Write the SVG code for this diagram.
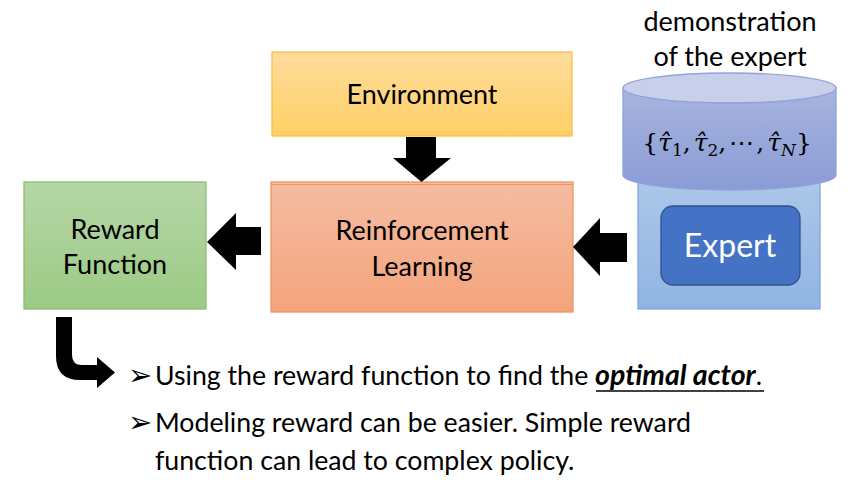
<svg xmlns="http://www.w3.org/2000/svg" width="853" height="493" viewBox="0 0 853 493">
<defs>
<linearGradient id="gEnv" x1="0" y1="0" x2="0" y2="1"><stop offset="0" stop-color="#FFDC9C"/><stop offset="1" stop-color="#FFD066"/></linearGradient>
<linearGradient id="gRL" x1="0" y1="0" x2="0" y2="1"><stop offset="0" stop-color="#F5BCA2"/><stop offset="1" stop-color="#F4A47C"/></linearGradient>
<linearGradient id="gRew" x1="0" y1="0" x2="0" y2="1"><stop offset="0" stop-color="#B5D6A6"/><stop offset="1" stop-color="#9CCA84"/></linearGradient>
<linearGradient id="gBox" x1="0" y1="0" x2="0" y2="1"><stop offset="0" stop-color="#B0CAEA"/><stop offset="1" stop-color="#90B4E3"/></linearGradient>
<linearGradient id="gCyl" x1="0" y1="0" x2="0" y2="1"><stop offset="0" stop-color="#A8B3DE"/><stop offset="1" stop-color="#8A9CD6"/></linearGradient>
<style>
.lbl{font-family:Lato,"Liberation Sans",sans-serif;font-size:27px;fill:#000;text-anchor:middle}
.txt{font-family:Lato,"Liberation Sans",sans-serif;font-size:26.7px;fill:#000}
.bul{font-family:"DejaVu Sans",sans-serif;font-size:29px;fill:#000}
.math{font-family:"DejaVu Serif","Liberation Serif",serif;font-size:25px;fill:#000}
.arrow{fill:#000}
</style>
</defs>

<g id="environment">
<rect x="272" y="52" width="300" height="84" fill="url(#gEnv)" stroke="#F6C244" stroke-width="1.3"/>
<text class="lbl" x="422" y="104">Environment</text>
</g>

<g id="reinforcement-learning">
<rect x="271" y="182" width="302" height="130" fill="url(#gRL)" stroke="#F0945E" stroke-width="1.3"/>
<line x1="271" y1="184.5" x2="573" y2="184.5" stroke="#F0945E" stroke-width="1"/>
<text class="lbl" x="422" y="240">Reinforcement</text>
<text class="lbl" x="422" y="276">Learning</text>
</g>

<g id="reward-function">
<rect x="24" y="182" width="182" height="127" fill="url(#gRew)" stroke="#8DBE72" stroke-width="1.3"/>
<text class="lbl" x="115" y="239">Reward</text>
<text class="lbl" x="115" y="274">Function</text>
</g>

<g id="expert-demo">
<text class="lbl" x="730" y="31">demonstration</text>
<text class="lbl" x="730" y="66">of the expert</text>
<rect x="638" y="160" width="182" height="149" fill="url(#gBox)" stroke="#7FA6DB" stroke-width="1.3"/>
<path d="M623,88 V175 A106.5,15 0 0 0 836,175 V88 Z" fill="url(#gCyl)" stroke="#8FA2D9" stroke-width="1.3"/>
<ellipse cx="729.5" cy="88" rx="106.5" ry="15" fill="#C7CFEA" stroke="#8FA2D9" stroke-width="1.3"/>
<text class="math" x="727" y="151" text-anchor="middle">{<tspan font-style="italic">τ̂</tspan><tspan font-size="17" dy="5">1</tspan><tspan dy="-5">,</tspan><tspan font-style="italic" dx="3">τ̂</tspan><tspan font-size="17" dy="5">2</tspan><tspan dy="-5">,</tspan><tspan dx="3">⋯</tspan><tspan dx="2">,</tspan><tspan font-style="italic" dx="3">τ̂</tspan><tspan font-size="17" font-style="italic" dy="5">N</tspan><tspan dy="-5">}</tspan></text>
<rect x="661" y="206" width="139" height="79" rx="12" fill="#4472C4" stroke="#2F528F" stroke-width="1.3"/>
<text class="lbl" x="730" y="257" style="fill:#fff;font-size:32px">Expert</text>
</g>

<g id="connectors">
<polygon class="arrow" points="406,137 436,137 436,158 451,158 421.5,182 393,158 406,158"/>
<polygon class="arrow" points="261,227 261,255 236,255 236,270 207,242 236,213 236,227"/>
<polygon class="arrow" points="627,233 627,262 600,262 600,276 573,247 600,218 600,233"/>
<path class="arrow" d="M56,317 H72 V355 Q72,365 82,365 H97 V357 L115,372.5 L97,388 V380 H80 Q56,380 56,356 Z"/>
</g>

<g id="notes">
<text class="bul" x="128" y="385">➢</text>
<text class="txt" x="155" y="385">Using the reward function to find the <tspan font-weight="bold" font-style="italic" font-size="28.5">optimal actor</tspan>.</text>
<line x1="596" y1="391" x2="764" y2="391" stroke="#000" stroke-width="1.3"/>
<text class="bul" x="128" y="432">➢</text>
<text class="txt" x="155" y="432">Modeling reward can be easier. Simple reward</text>
<text class="txt" x="155" y="470">function can lead to complex policy.</text>
</g>
</svg>
